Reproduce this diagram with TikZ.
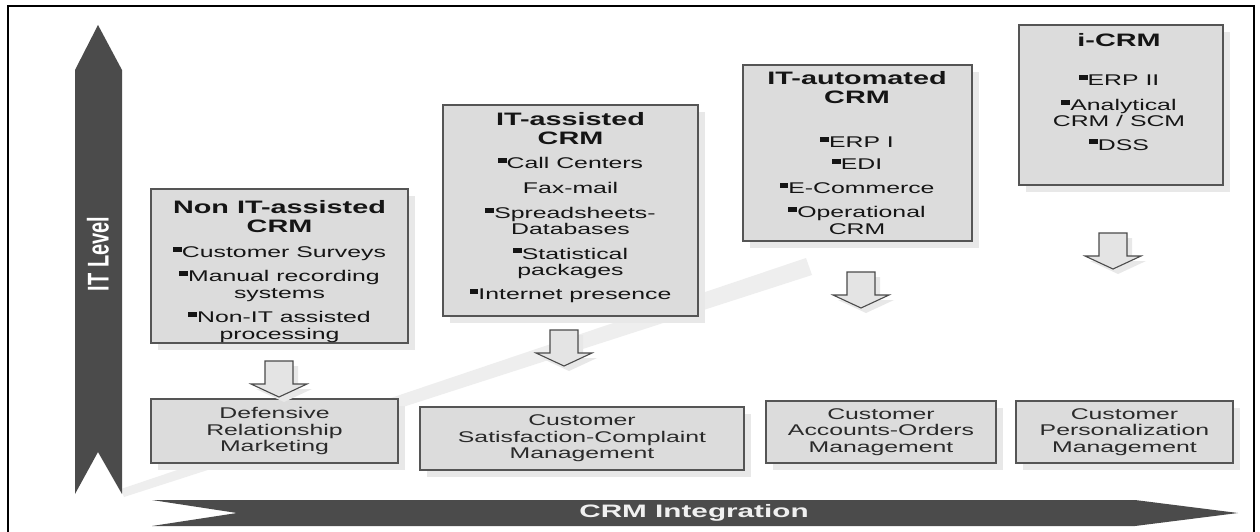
\documentclass[tikz,border=0pt]{standalone}
\usepackage{fontspec}
\setmainfont{Liberation Sans}
\usepackage{graphicx}
\usetikzlibrary{shadows}
\definecolor{arrowdark}{HTML}{4B4B4B}
\definecolor{boxfill}{HTML}{DCDCDC}
\definecolor{boxline}{HTML}{555555}
\definecolor{shadowc}{HTML}{E8E8E8}
\definecolor{bandc}{HTML}{EEEEEE}
\definecolor{hollowfill}{HTML}{E4E4E4}
\definecolor{txtc}{HTML}{151515}
\definecolor{btxtc}{HTML}{2A2A2A}
\newcommand\wl[1]{\scalebox{1.6}[1]{#1}}
\newcommand\bul{\raisebox{0.38em}{\rule{0.36em}{0.34em}}}
\newcommand\ttl[1]{\wl{\fontsize{18}{19}\selectfont\bfseries #1}}
\newcommand\itemfont{\fontsize{15.5}{16.5}\selectfont}
\lineskiplimit=-20pt
\begin{document}
\begin{tikzpicture}[x=1pt,y=-1pt,line join=miter,
  topbox/.style={draw=boxline,line width=1.3pt,fill=boxfill,inner sep=0pt,
    drop shadow={shadow xshift=7pt,shadow yshift=-7pt,fill=shadowc,opacity=1}},
  botbox/.style={topbox,align=center,text=btxtc,font=\itemfont},
  txtnode/.style={align=center,inner sep=0pt,text=txtc,font=\itemfont},
  bigarrow/.style={fill=arrowdark,draw=none},
  hollow/.pic={
    \fill[shadowc] (-9,5)--(19,5)--(19,28)--(33,28)--(5,41)--(-23,28)--(-9,28)--cycle;
    \draw[draw=arrowdark,line width=1.1pt,fill=hollowfill]
      (-14,0)--(14,0)--(14,23)--(28,23)--(0,36)--(-28,23)--(-14,23)--cycle;
  }]
\useasboundingbox (0,0) rectangle (1260,532);
\fill[white] (0,0) rectangle (1260,532);
% frame
\draw[line width=2pt,black] (8,545)--(8,6)--(1254,6)--(1254,545);
% light diagonal band
\fill[bandc] (121,489)--(806,258)--(812,275)--(124,497)--cycle;
% IT level arrow
\fill[bigarrow] (75,494)--(75,70)--(98,25)--(122,70)--(122,494)--(98,452)--cycle;
\node[rotate=90,text=white,inner sep=0pt,font=\fontsize{20}{20}\selectfont\bfseries] (itl) at (98,254) {\scalebox{1}[1.5]{IT Level}};
% CRM integration arrow
\fill[bigarrow] (152,500)--(1135,500)--(1238,513)--(1135,526)--(152,526)--(237,513)--cycle;
\node[text=white!94!black,inner sep=0pt,font=\fontsize{18}{18}\selectfont\bfseries] (crmi) at (694,513) {\scalebox{1.65}[1]{CRM Integration}};
% top boxes
\node[topbox,minimum width=257pt,minimum height=154pt] (A1) at (279.5,266) {};
\node[topbox,minimum width=255pt,minimum height=211pt] (A2) at (570.5,210.5) {};
\node[topbox,minimum width=229pt,minimum height=176pt] (A3) at (857.5,153) {};
\node[topbox,minimum width=204pt,minimum height=160pt] (A4) at (1121,105) {};
% top box texts
\node[txtnode,anchor=north] (A1t) at (279.5,200.5) {\ttl{Non IT-assisted}\\[2.5pt]\ttl{CRM}\\[8.5pt]
  \wl{\bul Customer Surveys}\\[7.5pt]\wl{\bul Manual recording}\\\wl{systems}\\[8pt]
  \wl{\bul Non-IT assisted}\\\wl{processing}};
\node[txtnode,anchor=north] (A2t) at (570.5,112.5) {\ttl{IT-assisted}\\[2.5pt]\ttl{CRM}\\[7.5pt]
  \wl{\bul Call Centers}\\[8.5pt]\wl{Fax-mail}\\[8.5pt]\wl{\bul Spreadsheets-}\\[-1pt]\wl{Databases}\\[8.5pt]
  \wl{\bul Statistical}\\\wl{packages}\\[7.5pt]\wl{\bul Internet presence}};
\node[txtnode,anchor=north] (A3t) at (857,71.5) {\ttl{IT-automated}\\[2.5pt]\ttl{CRM}\\[27.5pt]
  \wl{\bul ERP I}\\[5.5pt]\wl{\bul EDI}\\[7.5pt]\wl{\bul E-Commerce}\\[7.5pt]
  \wl{\bul Operational}\\\wl{CRM}};
\node[txtnode,anchor=north] (A4t) at (1119,33.5) {\ttl{i-CRM}\\[22.5pt]
  \wl{\bul ERP II}\\[8.5pt]\wl{\bul Analytical}\\[-1pt]\wl{CRM / SCM}\\[7.5pt]\wl{\bul DSS}};
% bottom boxes
\node[botbox,minimum width=247pt,minimum height=64pt] (B1) at (274.5,431) {\wl{Defensive}\\\wl{Relationship}\\\wl{Marketing}};
\node[botbox,minimum width=324pt,minimum height=63pt] (B2) at (582,438.5) {\wl{Customer}\\\wl{Satisfaction-Complaint}\\\wl{Management}};
\node[botbox,minimum width=230pt,minimum height=62pt] (B3) at (881,432) {\wl{Customer}\\\wl{Accounts-Orders}\\\wl{Management}};
\node[botbox,minimum width=217pt,minimum height=62pt] (B4) at (1124.5,432) {\wl{Customer}\\\wl{Personalization}\\\wl{Management}};
% hollow arrows
\pic at (279,361) {hollow};
\pic at (564,330) {hollow};
\pic at (861,272) {hollow};
\pic at (1113,233) {hollow};
\end{tikzpicture}
\end{document}
